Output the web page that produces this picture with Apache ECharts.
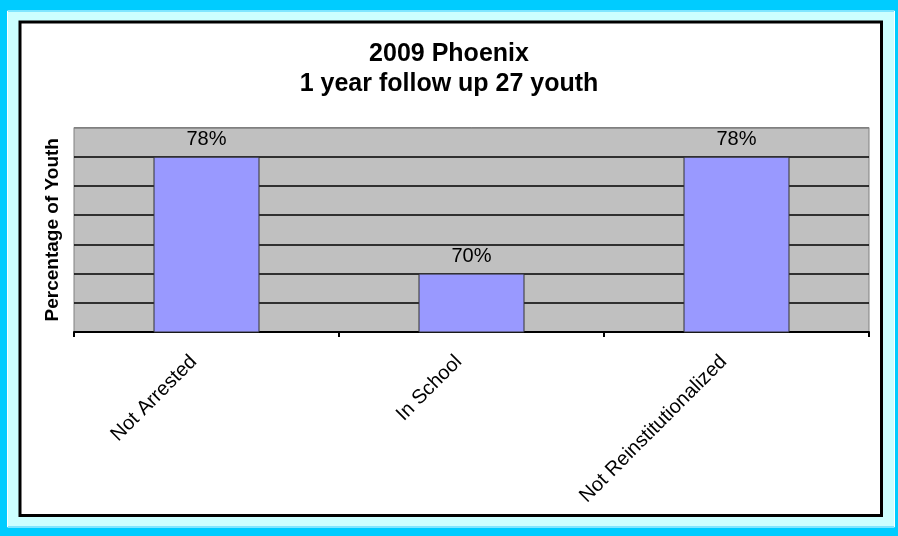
<!DOCTYPE html>
<html>
<head>
<meta charset="utf-8">
<title>2009 Phoenix</title>
<script src="https://cdn.jsdelivr.net/npm/echarts@6/dist/echarts.min.js"></script>
<style>
  html, body { margin: 0; padding: 0; background: #00CCFF; }
  #chart { width: 898px; height: 536px; }
</style>
</head>
<body>
<div id="chart"></div>
<script>
// Chart content
const titleLines = ['2009 Phoenix', '1 year follow up 27 youth'];
const yAxisTitle = 'Percentage of Youth';
const categories = ['Not Arrested', 'In School', 'Not Reinstitutionalized'];
const percentYouth = [78, 70, 78];
const yRange = [66, 80];
const yStep = 2;

const FONT = '"Liberation Sans", Arial, Helvetica, sans-serif';

// One colour per horizontal gridline: black inside, grey along the top edge
const gridColors = [];
for (let v = yRange[0]; v <= yRange[1]; v += yStep) {
  gridColors.push(v === yRange[1] ? '#808080' : '#000000');
}

const chart = echarts.init(document.getElementById('chart'), null, { renderer: 'canvas' });

chart.setOption({
  backgroundColor: '#00CCFF',
  animation: false,
  graphic: [
    // thin white line of the outer frame
    { type: 'rect', z: -100, silent: true,
      shape: { x: 7.5, y: 11, width: 887, height: 516 },
      style: { fill: 'none', stroke: '#FFFFFF', lineWidth: 1 } },
    // light cyan band
    { type: 'rect', z: -99, silent: true,
      shape: { x: 8, y: 12, width: 886, height: 514 },
      style: { fill: '#CCFFFF' } },
    // white chart area with black border
    { type: 'rect', z: -98, silent: true,
      shape: { x: 20, y: 22, width: 861.5, height: 493.5 },
      style: { fill: '#FFFFFF', stroke: '#000000', lineWidth: 3 } }
  ],
  title: {
    text: titleLines.join('\n'),
    left: 'center',
    top: 39,
    padding: 0,
    textStyle: {
      fontFamily: FONT,
      fontWeight: 'bold',
      fontSize: 25,
      lineHeight: 30,
      color: '#000000'
    }
  },
  grid: {
    left: 74,
    right: 29,
    top: 127.5,
    bottom: 204,
    show: true,
    backgroundColor: '#C0C0C0',
    borderColor: '#808080',
    borderWidth: 1
  },
  xAxis: {
    type: 'category',
    data: categories,
    axisLine: { show: true, lineStyle: { color: '#000000', width: 2 } },
    axisTick: { show: true, length: 5, lineStyle: { color: '#000000', width: 2 } },
    axisLabel: {
      rotate: 45,
      margin: 14,
      padding: [0, 18, 0, 0],
      interval: 0,
      fontFamily: FONT,
      fontSize: 20,
      color: '#000000'
    },
    splitLine: { show: false }
  },
  yAxis: {
    type: 'value',
    min: yRange[0],
    max: yRange[1],
    interval: yStep,
    name: yAxisTitle,
    nameLocation: 'middle',
    nameGap: 12,
    nameTextStyle: {
      fontFamily: FONT,
      fontWeight: 'bold',
      fontSize: 19,
      color: '#000000'
    },
    axisLine: { show: false },
    axisTick: { show: false },
    axisLabel: { show: false },
    splitLine: { show: true, lineStyle: { color: gridColors, width: 1.5 } }
  },
  series: [{
    type: 'bar',
    data: percentYouth,
    barWidth: '40%',
    itemStyle: { color: '#9999FF', borderColor: '#333333', borderWidth: 1 },
    label: {
      show: true,
      position: 'top',
      distance: 7,
      formatter: '{c}%',
      fontFamily: FONT,
      fontSize: 20,
      color: '#000000'
    }
  }]
});
</script>
</body>
</html>
